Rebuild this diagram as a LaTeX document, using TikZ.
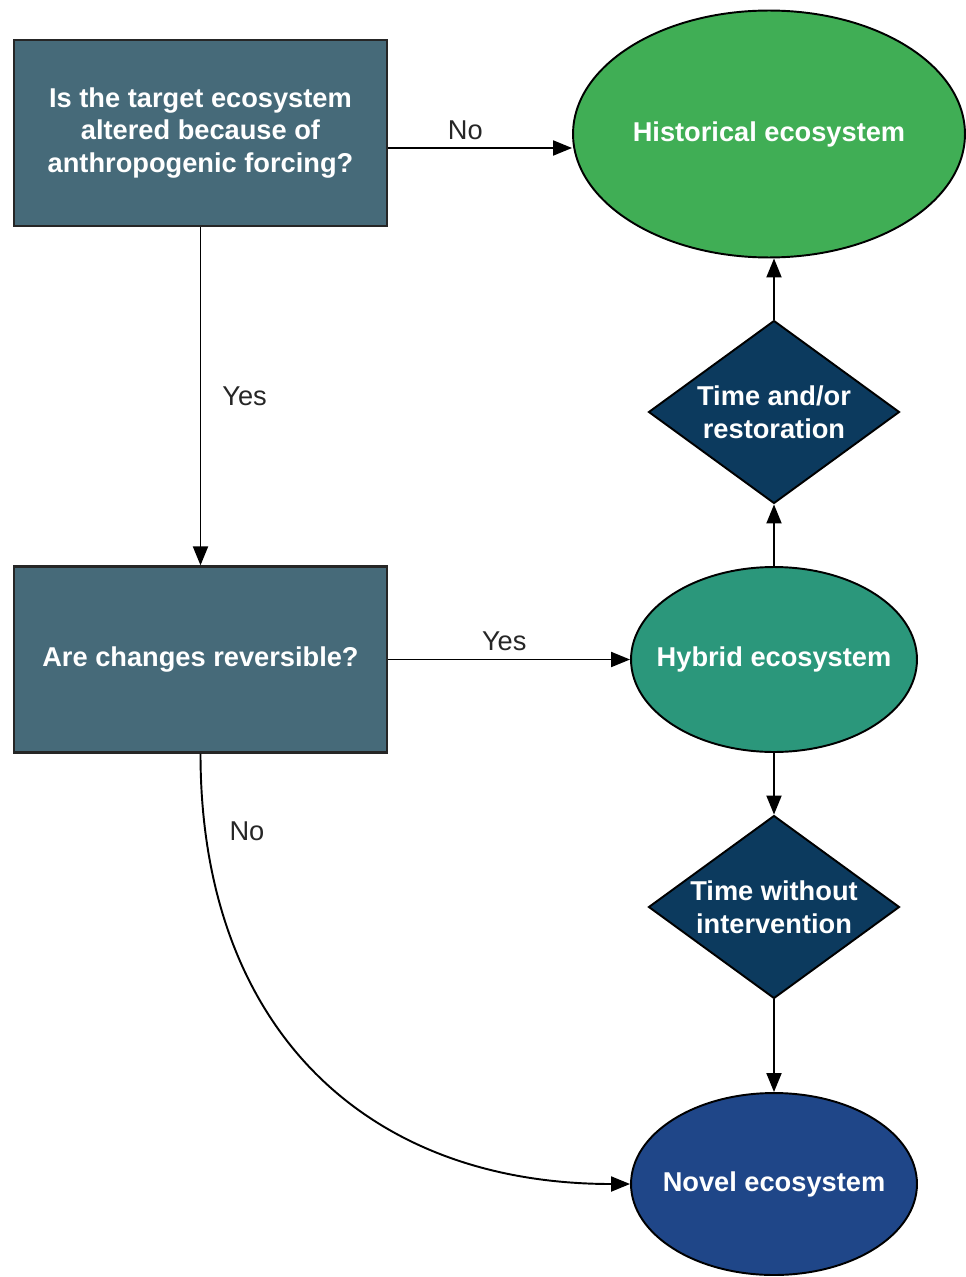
\documentclass[tikz,border=0pt]{standalone}
\usepackage{fontspec}
\setmainfont{Liberation Sans}
\usetikzlibrary{shapes.geometric,arrows.meta}

\definecolor{qfill}{HTML}{466A79}
\definecolor{histfill}{HTML}{40AE55}
\definecolor{hybfill}{HTML}{2B977B}
\definecolor{timefill}{HTML}{0C3A5E}
\definecolor{novfill}{HTML}{1F4688}
\definecolor{lblcol}{HTML}{262626}

\tikzset{
	question/.style={rectangle,draw=black!85,line width=1.3pt,fill=qfill,text=white,
		font=\bfseries\fontsize{15.5}{18.7}\selectfont,align=center,
		minimum width=7.46cm,minimum height=3.72cm,inner sep=0pt},
	eco/.style={ellipse,draw=black,line width=1.1pt,text=white,
		font=\bfseries\fontsize{15.5}{18.7}\selectfont,inner sep=0pt},
	timebox/.style={diamond,aspect=1.37,draw=black,line width=1.1pt,fill=timefill,text=white,
		font=\bfseries\fontsize{15.5}{18.7}\selectfont,align=center,
		minimum width=5.02cm,minimum height=3.66cm,inner sep=0pt},
	arr/.style={line width=1.1pt,->,>={Triangle[length=0.38cm,width=0.3cm]}},
	answer/.style={text=lblcol,font=\fontsize{15.5}{18.7}\selectfont}
}

\begin{document}
\begin{tikzpicture}[x=0.02cm,y=-0.02cm]
	\useasboundingbox (0,0) rectangle (966,1277);

	% questions
	\node[question] (altered) at (200.5,133) {Is the target ecosystem\\altered because of\\anthropogenic forcing?};
	\node[question] (reversible) at (200.5,659.5) {Are changes reversible?};

	% ecosystems
	\node[eco,fill=histfill,minimum width=7.84cm,minimum height=4.94cm] (historical) at (769,134) {\makebox[0pt]{Historical ecosystem}};
	\node[eco,fill=hybfill,minimum width=5.72cm,minimum height=3.7cm] (hybrid) at (774,659.5) {\makebox[0pt]{Hybrid ecosystem}};
	\node[eco,fill=novfill,minimum width=5.72cm,minimum height=3.64cm] (novel) at (774,1184) {\makebox[0pt]{Novel ecosystem}};

	% time
	\node[timebox] (restore) at (774,412) {Time and/or\\restoration};
	\node[timebox] (without) at (774,907) {Time without\\intervention};

	\draw[arr] ([yshift=-0.3cm]altered.east) -- node[answer,pos=0.42,above=1pt] {No} ([yshift=-0.3cm]altered.east -| historical.west);
	\draw[arr] (altered) -- node[answer,right=0.3cm] {Yes} (reversible);
	\draw[arr] (reversible) -- node[answer,pos=0.48,above=1pt] {Yes} (hybrid);
	\draw[arr] (reversible.south) to[out=-90,in=180,looseness=1.13] node[answer,pos=0.1,right=0.35cm] {No} (novel.west);

	\draw[arr] (hybrid) -- (restore);
	\draw[arr] (restore.north) -- (restore.north |- historical.south);
	\draw[arr] (hybrid) -- (without);
	\draw[arr] (without) -- (novel);
\end{tikzpicture}
\end{document}
